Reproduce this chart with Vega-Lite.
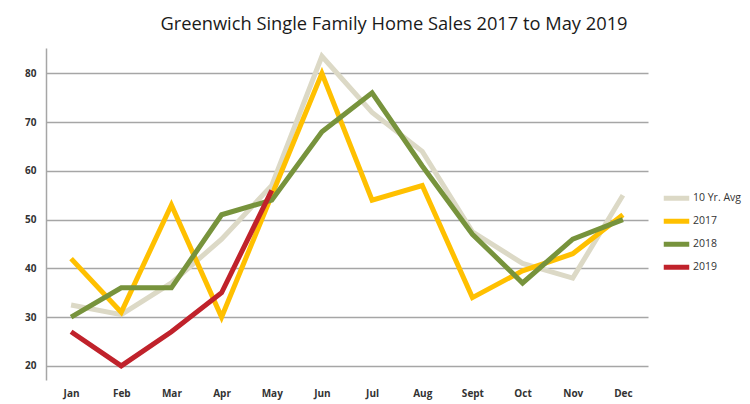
{
  "$schema": "https://vega.github.io/schema/vega-lite/v6.json",
  "width": 602,
  "height": 332,
  "autosize": "none",
  "padding": {"left": 46, "top": 48, "right": 102, "bottom": 24},
  "background": "white",
  "title": {"text": "Greenwich Single Family Home Sales 2017 to May 2019", "font": "Open Sans", "fontSize": 18.3, "fontWeight": "normal", "color": "#1a1a1a", "anchor": "middle", "dx": 47, "offset": 12},
  "config": {"view": {"stroke": null}},
  "data": {"values": [
    {"month": "Jan", "series": "10 Yr. Avg", "value": 32.5},
    {"month": "Feb", "series": "10 Yr. Avg", "value": 30.5},
    {"month": "Mar", "series": "10 Yr. Avg", "value": 37},
    {"month": "Apr", "series": "10 Yr. Avg", "value": 46},
    {"month": "May", "series": "10 Yr. Avg", "value": 57},
    {"month": "Jun", "series": "10 Yr. Avg", "value": 83.5},
    {"month": "Jul", "series": "10 Yr. Avg", "value": 72},
    {"month": "Aug", "series": "10 Yr. Avg", "value": 64},
    {"month": "Sept", "series": "10 Yr. Avg", "value": 47.5},
    {"month": "Oct", "series": "10 Yr. Avg", "value": 41},
    {"month": "Nov", "series": "10 Yr. Avg", "value": 38},
    {"month": "Dec", "series": "10 Yr. Avg", "value": 55},
    {"month": "Jan", "series": "2017", "value": 42},
    {"month": "Feb", "series": "2017", "value": 31},
    {"month": "Mar", "series": "2017", "value": 53},
    {"month": "Apr", "series": "2017", "value": 30},
    {"month": "May", "series": "2017", "value": 55},
    {"month": "Jun", "series": "2017", "value": 80},
    {"month": "Jul", "series": "2017", "value": 54},
    {"month": "Aug", "series": "2017", "value": 57},
    {"month": "Sept", "series": "2017", "value": 34},
    {"month": "Oct", "series": "2017", "value": 39.5},
    {"month": "Nov", "series": "2017", "value": 43},
    {"month": "Dec", "series": "2017", "value": 51},
    {"month": "Jan", "series": "2018", "value": 30},
    {"month": "Feb", "series": "2018", "value": 36},
    {"month": "Mar", "series": "2018", "value": 36},
    {"month": "Apr", "series": "2018", "value": 51},
    {"month": "May", "series": "2018", "value": 54},
    {"month": "Jun", "series": "2018", "value": 68},
    {"month": "Jul", "series": "2018", "value": 76},
    {"month": "Aug", "series": "2018", "value": 61},
    {"month": "Sept", "series": "2018", "value": 47},
    {"month": "Oct", "series": "2018", "value": 37},
    {"month": "Nov", "series": "2018", "value": 46},
    {"month": "Dec", "series": "2018", "value": 50},
    {"month": "Jan", "series": "2019", "value": 27},
    {"month": "Feb", "series": "2019", "value": 20},
    {"month": "Mar", "series": "2019", "value": 27},
    {"month": "Apr", "series": "2019", "value": 35},
    {"month": "May", "series": "2019", "value": 56}
  ]},
  "mark": {"type": "line", "strokeWidth": 5, "strokeJoin": "miter"},
  "encoding": {
    "x": {"field": "month", "type": "ordinal", "sort": ["Jan","Feb","Mar","Apr","May","Jun","Jul","Aug","Sept","Oct","Nov","Dec"],
      "scale": {"type": "point", "padding": 0.5},
      "axis": {"title": null, "domain": false, "ticks": false, "grid": false, "labelAngle": 0, "labelFont": "Open Sans", "labelFontWeight": "bold", "labelFontSize": 10, "labelColor": "#333333", "labelPadding": 8}},
    "y": {"field": "value", "type": "quantitative",
      "scale": {"domain": [17.1, 85.2], "nice": false, "zero": false},
      "axis": {"title": null, "values": [20,30,40,50,60,70,80], "domain": true, "domainColor": "#a6a6a6", "domainWidth": 1.5, "ticks": false, "grid": true, "gridColor": "#a6a6a6", "gridWidth": 1.5, "labelFont": "Open Sans", "labelFontWeight": "bold", "labelFontSize": 10, "labelColor": "#333333", "labelPadding": 10}},
    "color": {"field": "series", "type": "nominal",
      "scale": {"domain": ["10 Yr. Avg","2017","2018","2019"], "range": ["#dcd9c6","#ffc000","#77933c","#c0222b"]},
      "legend": {"title": null, "orient": "none", "legendX": 615, "legendY": 139, "symbolType": "stroke", "symbolSize": 650, "symbolStrokeWidth": 5, "clipHeight": 22.7, "labelFont": "Open Sans", "labelFontSize": 10.5, "labelColor": "#333333", "rowPadding": 0, "labelOffset": 1, "symbolOffset": 0}},
    "order": {"field": "series"}
  }
}
